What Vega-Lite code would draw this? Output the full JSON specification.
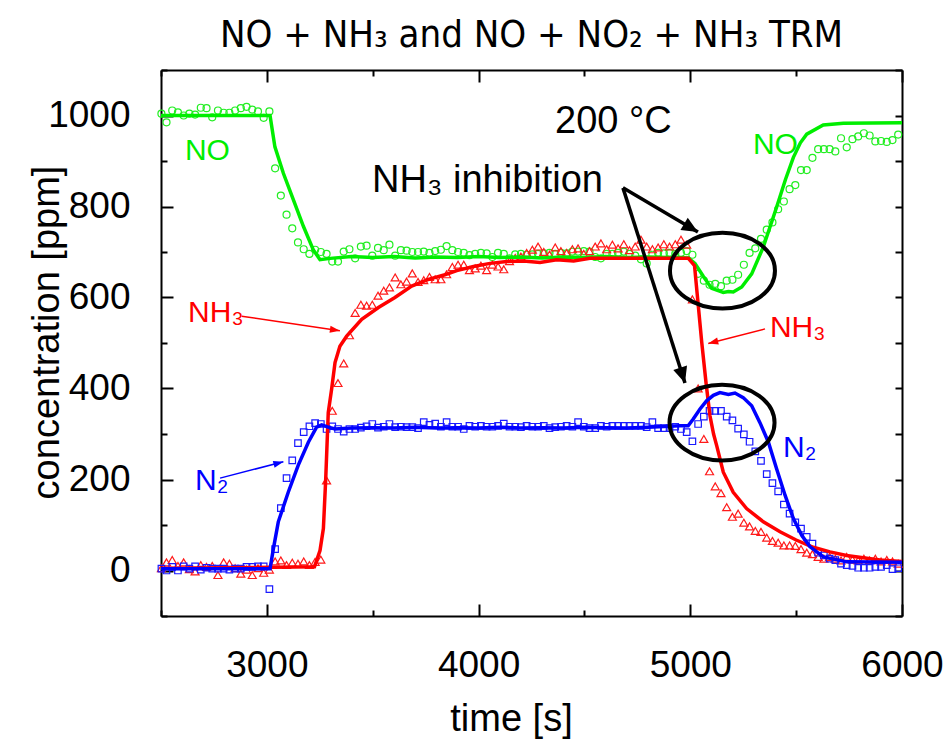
{
  "$schema": "https://vega.github.io/schema/vega-lite/v6.json",
  "width": 741,
  "height": 546,
  "autosize": {"type": "none"},
  "padding": {"left": 161, "top": 70, "right": 42, "bottom": 123},
  "background": "white",
  "config": {
    "view": {"stroke": null},
    "font": "Liberation Sans",
    "axis": {
      "domainColor": "black", "domainWidth": 2, "tickColor": "black", "tickWidth": 2,
      "labelColor": "black", "titleColor": "black", "grid": false,
      "labelFont": "Liberation Sans", "titleFont": "Liberation Sans",
      "labelFontSize": 37, "titleFontSize": 38, "titleFontWeight": "normal",
      "labelFlush": false, "labelOverlap": false
    }
  },
  "title": {
    "text": "NO + NH₃ and NO + NO₂ + NH₃ TRM",
    "font": "Liberation Sans Narrow, DejaVu Sans Condensed",
    "fontSize": 38, "fontWeight": "normal", "color": "black",
    "anchor": "middle", "frame": "group", "offset": 20, "dy": 24
  },
  "datasets": {
    "exp": [
      {"t":2502,"NO":1004,"NH3":5,"N2":4},{"t":2526,"NO":985,"NH3":18,"N2":0},{"t":2553,"NO":1011,"NH3":23,"N2":8},
      {"t":2580,"NO":1007,"NH3":10,"N2":0},{"t":2607,"NO":1000,"NH3":18,"N2":9},{"t":2634,"NO":1004,"NH3":3,"N2":4},
      {"t":2661,"NO":1002,"NH3":-2,"N2":9},{"t":2688,"NO":1017,"NH3":12,"N2":2},{"t":2715,"NO":1016,"NH3":8,"N2":6},
      {"t":2742,"NO":996,"NH3":10,"N2":4},{"t":2769,"NO":1011,"NH3":-10,"N2":4},{"t":2796,"NO":1006,"NH3":18,"N2":4},
      {"t":2823,"NO":1006,"NH3":15,"N2":2},{"t":2850,"NO":1011,"NH3":5,"N2":4},{"t":2877,"NO":1016,"NH3":-7,"N2":4},
      {"t":2904,"NO":1019,"NH3":2,"N2":8},{"t":2931,"NO":1013,"NH3":-10,"N2":8},{"t":2958,"NO":1009,"NH3":5,"N2":9},
      {"t":2985,"NO":995,"NH3":-5,"N2":9},{"t":3012,"NO":1009,"NH3":2,"N2":-41},{"t":3039,"NO":884,"NH3":20,"N2":47},
      {"t":3066,"NO":824,"NH3":22,"N2":137},{"t":3093,"NO":782,"NH3":12,"N2":203},{"t":3120,"NO":752,"NH3":17,"N2":242},
      {"t":3147,"NO":721,"NH3":15,"N2":280},{"t":3174,"NO":706,"NH3":20,"N2":304},{"t":3201,"NO":696,"NH3":12,"N2":317},
      {"t":3228,"NO":705,"NH3":19,"N2":324},{"t":3255,"NO":700,"NH3":24,"N2":322},{"t":3282,"NO":696,"NH3":198,"N2":311},
      {"t":3309,"NO":679,"NH3":351,"N2":317},{"t":3336,"NO":679,"NH3":412,"N2":311},{"t":3363,"NO":701,"NH3":455,"N2":305},
      {"t":3390,"NO":706,"NH3":517,"N2":311},{"t":3417,"NO":686,"NH3":566,"N2":311},{"t":3444,"NO":712,"NH3":584,"N2":314},
      {"t":3471,"NO":714,"NH3":582,"N2":317},{"t":3498,"NO":692,"NH3":584,"N2":322},{"t":3525,"NO":709,"NH3":604,"N2":314},
      {"t":3552,"NO":704,"NH3":615,"N2":316},{"t":3579,"NO":716,"NH3":622,"N2":322},{"t":3606,"NO":692,"NH3":644,"N2":315},
      {"t":3633,"NO":704,"NH3":629,"N2":316},{"t":3660,"NO":703,"NH3":635,"N2":315},{"t":3687,"NO":700,"NH3":653,"N2":315},
      {"t":3714,"NO":700,"NH3":634,"N2":313},{"t":3741,"NO":701,"NH3":638,"N2":326},{"t":3768,"NO":698,"NH3":645,"N2":320},
      {"t":3795,"NO":702,"NH3":640,"N2":323},{"t":3822,"NO":705,"NH3":640,"N2":316},{"t":3849,"NO":713,"NH3":651,"N2":326},
      {"t":3876,"NO":704,"NH3":667,"N2":316},{"t":3903,"NO":700,"NH3":672,"N2":316},{"t":3930,"NO":698,"NH3":672,"N2":311},
      {"t":3957,"NO":693,"NH3":660,"N2":318},{"t":3984,"NO":696,"NH3":664,"N2":316},{"t":4011,"NO":698,"NH3":670,"N2":318},
      {"t":4038,"NO":697,"NH3":660,"N2":316},{"t":4065,"NO":689,"NH3":672,"N2":316},{"t":4092,"NO":698,"NH3":668,"N2":318},
      {"t":4119,"NO":696,"NH3":662,"N2":323},{"t":4146,"NO":686,"NH3":680,"N2":316},{"t":4173,"NO":695,"NH3":687,"N2":316},
      {"t":4200,"NO":696,"NH3":690,"N2":315},{"t":4227,"NO":694,"NH3":698,"N2":318},{"t":4254,"NO":695,"NH3":705,"N2":316},
      {"t":4281,"NO":696,"NH3":712,"N2":316},{"t":4308,"NO":697,"NH3":700,"N2":318},{"t":4335,"NO":698,"NH3":694,"N2":313},
      {"t":4362,"NO":696,"NH3":710,"N2":315},{"t":4389,"NO":698,"NH3":702,"N2":316},{"t":4416,"NO":697,"NH3":698,"N2":318},
      {"t":4443,"NO":701,"NH3":706,"N2":316},{"t":4470,"NO":701,"NH3":708,"N2":326},{"t":4497,"NO":702,"NH3":696,"N2":316},
      {"t":4524,"NO":701,"NH3":702,"N2":313},{"t":4551,"NO":689,"NH3":712,"N2":313},{"t":4578,"NO":686,"NH3":719,"N2":318},
      {"t":4605,"NO":696,"NH3":706,"N2":316},{"t":4632,"NO":696,"NH3":716,"N2":318},{"t":4659,"NO":698,"NH3":708,"N2":318},
      {"t":4686,"NO":701,"NH3":717,"N2":318},{"t":4713,"NO":696,"NH3":704,"N2":318},{"t":4740,"NO":692,"NH3":712,"N2":318},
      {"t":4767,"NO":684,"NH3":727,"N2":318},{"t":4794,"NO":675,"NH3":712,"N2":315},{"t":4821,"NO":694,"NH3":706,"N2":326},
      {"t":4848,"NO":698,"NH3":710,"N2":313},{"t":4875,"NO":697,"NH3":717,"N2":313},{"t":4902,"NO":698,"NH3":712,"N2":313},
      {"t":4929,"NO":696,"NH3":717,"N2":316},{"t":4956,"NO":698,"NH3":727,"N2":311},{"t":4983,"NO":702,"NH3":716,"N2":304},
      {"t":5010,"NO":694,"NH3":596,"N2":284},{"t":5037,"NO":652,"NH3":400,"N2":322},{"t":5064,"NO":637,"NH3":289,"N2":338},
      {"t":5091,"NO":628,"NH3":218,"N2":351},{"t":5118,"NO":630,"NH3":185,"N2":351},{"t":5145,"NO":625,"NH3":170,"N2":351},
      {"t":5172,"NO":637,"NH3":139,"N2":338},{"t":5199,"NO":639,"NH3":118,"N2":330},{"t":5226,"NO":650,"NH3":125,"N2":312},
      {"t":5253,"NO":672,"NH3":105,"N2":299},{"t":5280,"NO":698,"NH3":97,"N2":283},{"t":5307,"NO":708,"NH3":87,"N2":262},
      {"t":5334,"NO":729,"NH3":85,"N2":241},{"t":5361,"NO":749,"NH3":72,"N2":212},{"t":5388,"NO":765,"NH3":65,"N2":192},
      {"t":5415,"NO":794,"NH3":61,"N2":174},{"t":5442,"NO":811,"NH3":55,"N2":145},{"t":5469,"NO":838,"NH3":55,"N2":125},
      {"t":5496,"NO":847,"NH3":54,"N2":106},{"t":5523,"NO":880,"NH3":47,"N2":92},{"t":5550,"NO":880,"NH3":39,"N2":74},
      {"t":5577,"NO":907,"NH3":36,"N2":59},{"t":5604,"NO":926,"NH3":30,"N2":39},{"t":5631,"NO":926,"NH3":26,"N2":33},
      {"t":5658,"NO":926,"NH3":30,"N2":26},{"t":5685,"NO":921,"NH3":26,"N2":23},{"t":5712,"NO":950,"NH3":22,"N2":15},
      {"t":5739,"NO":930,"NH3":30,"N2":12},{"t":5766,"NO":948,"NH3":24,"N2":10},{"t":5793,"NO":954,"NH3":22,"N2":6},
      {"t":5820,"NO":961,"NH3":26,"N2":6},{"t":5847,"NO":956,"NH3":22,"N2":6},{"t":5874,"NO":943,"NH3":26,"N2":8},
      {"t":5901,"NO":944,"NH3":20,"N2":8},{"t":5928,"NO":942,"NH3":23,"N2":12},{"t":5955,"NO":946,"NH3":20,"N2":3},
      {"t":5982,"NO":958,"NH3":15,"N2":5}
    ],
    "model": [
      {"s":"NO","t":2500,"c":1000},{"s":"NO","t":3015,"c":1000},{"s":"NO","t":3038,"c":931},{"s":"NO","t":3078,"c":873},
      {"s":"NO","t":3125,"c":815},{"s":"NO","t":3173,"c":756},{"s":"NO","t":3219,"c":705},{"s":"NO","t":3251,"c":683},
      {"s":"NO","t":3300,"c":686},{"s":"NO","t":3400,"c":690},{"s":"NO","t":3500,"c":688},{"s":"NO","t":3600,"c":690},
      {"s":"NO","t":3700,"c":687},{"s":"NO","t":3800,"c":689},{"s":"NO","t":3900,"c":688},{"s":"NO","t":4000,"c":690},
      {"s":"NO","t":4100,"c":688},{"s":"NO","t":4200,"c":689},{"s":"NO","t":4300,"c":687},{"s":"NO","t":4400,"c":689},
      {"s":"NO","t":4500,"c":688},{"s":"NO","t":4600,"c":690},{"s":"NO","t":4700,"c":688},{"s":"NO","t":4800,"c":689},
      {"s":"NO","t":4900,"c":688},{"s":"NO","t":4991,"c":687},{"s":"NO","t":5022,"c":675},{"s":"NO","t":5062,"c":646},
      {"s":"NO","t":5101,"c":620},{"s":"NO","t":5156,"c":611},{"s":"NO","t":5180,"c":613},{"s":"NO","t":5203,"c":612},
      {"s":"NO","t":5243,"c":623},{"s":"NO","t":5290,"c":652},{"s":"NO","t":5345,"c":711},{"s":"NO","t":5408,"c":799},
      {"s":"NO","t":5450,"c":860},{"s":"NO","t":5487,"c":908},{"s":"NO","t":5520,"c":940},{"s":"NO","t":5550,"c":959},
      {"s":"NO","t":5628,"c":979},{"s":"NO","t":5723,"c":983},{"s":"NO","t":6000,"c":984},
      {"s":"NH3","t":2500,"c":5},{"s":"NH3","t":3225,"c":8},{"s":"NH3","t":3251,"c":44},{"s":"NH3","t":3267,"c":92},
      {"s":"NH3","t":3278,"c":201},{"s":"NH3","t":3290,"c":347},{"s":"NH3","t":3306,"c":399},{"s":"NH3","t":3322,"c":457},
      {"s":"NH3","t":3345,"c":493},{"s":"NH3","t":3377,"c":515},{"s":"NH3","t":3448,"c":552},{"s":"NH3","t":3527,"c":578},
      {"s":"NH3","t":3605,"c":600},{"s":"NH3","t":3684,"c":625},{"s":"NH3","t":3763,"c":640},{"s":"NH3","t":3841,"c":650},
      {"s":"NH3","t":3897,"c":659},{"s":"NH3","t":3976,"c":668},{"s":"NH3","t":4054,"c":675},{"s":"NH3","t":4133,"c":679},
      {"s":"NH3","t":4212,"c":680},{"s":"NH3","t":4290,"c":677},{"s":"NH3","t":4369,"c":683},{"s":"NH3","t":4449,"c":680},
      {"s":"NH3","t":4526,"c":686},{"s":"NH3","t":4700,"c":686},{"s":"NH3","t":4850,"c":686},{"s":"NH3","t":4991,"c":686},
      {"s":"NH3","t":5020,"c":670},{"s":"NH3","t":5035,"c":596},{"s":"NH3","t":5054,"c":502},{"s":"NH3","t":5075,"c":410},
      {"s":"NH3","t":5093,"c":340},{"s":"NH3","t":5110,"c":300},{"s":"NH3","t":5125,"c":274},{"s":"NH3","t":5156,"c":216},
      {"s":"NH3","t":5203,"c":172},{"s":"NH3","t":5266,"c":136},{"s":"NH3","t":5345,"c":107},{"s":"NH3","t":5424,"c":85},
      {"s":"NH3","t":5500,"c":67},{"s":"NH3","t":5581,"c":51},{"s":"NH3","t":5660,"c":41},{"s":"NH3","t":5738,"c":33},
      {"s":"NH3","t":5896,"c":23},{"s":"NH3","t":6000,"c":20},
      {"s":"N2","t":2500,"c":4},{"s":"N2","t":3015,"c":4},{"s":"N2","t":3031,"c":48},{"s":"N2","t":3054,"c":107},
      {"s":"N2","t":3101,"c":172},{"s":"N2","t":3148,"c":231},{"s":"N2","t":3196,"c":282},{"s":"N2","t":3235,"c":315},
      {"s":"N2","t":3259,"c":320},{"s":"N2","t":3290,"c":315},{"s":"N2","t":3322,"c":311},{"s":"N2","t":3400,"c":313},
      {"s":"N2","t":3500,"c":314},{"s":"N2","t":3600,"c":313},{"s":"N2","t":3700,"c":315},{"s":"N2","t":3800,"c":313},
      {"s":"N2","t":3900,"c":314},{"s":"N2","t":4000,"c":313},{"s":"N2","t":4100,"c":315},{"s":"N2","t":4200,"c":313},
      {"s":"N2","t":4300,"c":314},{"s":"N2","t":4400,"c":313},{"s":"N2","t":4500,"c":315},{"s":"N2","t":4600,"c":314},
      {"s":"N2","t":4700,"c":313},{"s":"N2","t":4800,"c":315},{"s":"N2","t":4951,"c":318},{"s":"N2","t":4990,"c":318},
      {"s":"N2","t":5014,"c":333},{"s":"N2","t":5046,"c":355},{"s":"N2","t":5077,"c":373},{"s":"N2","t":5109,"c":385},
      {"s":"N2","t":5140,"c":391},{"s":"N2","t":5180,"c":387},{"s":"N2","t":5211,"c":390},{"s":"N2","t":5250,"c":380},
      {"s":"N2","t":5290,"c":362},{"s":"N2","t":5329,"c":325},{"s":"N2","t":5369,"c":282},{"s":"N2","t":5408,"c":223},
      {"s":"N2","t":5448,"c":165},{"s":"N2","t":5487,"c":114},{"s":"N2","t":5527,"c":77},{"s":"N2","t":5566,"c":52},
      {"s":"N2","t":5629,"c":30},{"s":"N2","t":5739,"c":19},{"s":"N2","t":6000,"c":18}
    ],
    "serieslabels": [
      {"s":"NO","label":"NO","t":2613,"c":902},
      {"s":"NO","label":"NO","t":5296,"c":915},
      {"s":"NH3","label":"NH₃","t":2628,"c":546},
      {"s":"NH3","label":"NH₃","t":5376,"c":513},
      {"s":"N2","label":"N₂","t":2661,"c":177},
      {"s":"N2","label":"N₂","t":5438,"c":249}
    ],
    "notes": [
      {"label":"200 °C","t":4361,"c":961},
      {"label":"NH₃ inhibition","t":3497,"c":832}
    ],
    "pointers": [
      {"s":"NH3","t1":2881,"c1":559,"t2":3345,"c2":527},
      {"s":"NH3","t1":5353,"c1":531,"t2":5085,"c2":499},
      {"s":"N2","t1":2779,"c1":203,"t2":3078,"c2":239}
    ],
    "inhibition": [
      {"t1":4682,"c1":841,"t2":5036,"c2":744},
      {"t1":4682,"c1":841,"t2":4975,"c2":412}
    ],
    "circles": [
      {"t":5152,"c":659},
      {"t":5150,"c":325}
    ]
  },
  "layer": [
    {
      "data": {"name": "exp"},
      "mark": {"type": "point", "shape": "circle", "filled": false, "color": "#22ee22", "opacity": 1, "size": 49, "strokeWidth": 1.2},
      "encoding": {
        "x": {"field": "t", "type": "quantitative", "scale": {"domain": [2500, 6000], "nice": false, "zero": false},
          "axis": {
            "orient": "bottom",
            "values": [2500, 3000, 3500, 4000, 4500, 5000, 5500, 6000],
            "labelExpr": "datum.value % 1000 === 0 ? format(datum.value, 'd') : ''",
            "tickSize": {"condition": {"test": "datum.value % 1000 === 0", "value": -12}, "value": -6},
            "labelPadding": 43,
            "title": "time [s]", "titleX": 350, "titleY": 114, "titleBaseline": "alphabetic"
          }},
        "y": {"field": "NO", "type": "quantitative", "scale": {"domain": [-100, 1100], "nice": false, "zero": false},
          "axis": {
            "orient": "left",
            "values": [-100, 0, 100, 200, 300, 400, 500, 600, 700, 800, 900, 1000, 1100],
            "labelExpr": "datum.value % 200 === 0 ? format(datum.value, 'd') : ''",
            "tickSize": {"condition": {"test": "datum.value % 200 === 0", "value": -12}, "value": -6},
            "labelPadding": 43,
            "title": "concentration [ppm]", "titleX": -103, "titleY": 262, "titleBaseline": "alphabetic", "titleAngle": -90
          }}
      }
    },
    {
      "data": {"name": "exp"},
      "mark": {"type": "point", "shape": "triangle-up", "filled": false, "color": "#ff1a1a", "opacity": 1, "size": 64, "strokeWidth": 1.2},
      "encoding": {
        "x": {"field": "t", "type": "quantitative", "axis": null},
        "y": {"field": "NH3", "type": "quantitative", "axis": null}
      }
    },
    {
      "data": {"name": "exp"},
      "mark": {"type": "point", "shape": "square", "filled": false, "color": "#1a1aff", "opacity": 1, "size": 42, "strokeWidth": 1.2},
      "encoding": {
        "x": {"field": "t", "type": "quantitative", "axis": null},
        "y": {"field": "N2", "type": "quantitative", "axis": null}
      }
    },
    {
      "data": {"name": "model"},
      "mark": {"type": "line", "strokeWidth": 3.5},
      "encoding": {
        "x": {"field": "t", "type": "quantitative", "axis": null},
        "y": {"field": "c", "type": "quantitative", "axis": null},
        "color": {"field": "s", "type": "nominal", "scale": {"domain": ["NO", "NH3", "N2"], "range": ["#00ee00", "#ff0000", "#0000ff"]}, "legend": null}
      }
    },
    {
      "data": {"name": "pointers"},
      "mark": {"type": "rule", "strokeWidth": 1.5},
      "encoding": {
        "x": {"field": "t1", "type": "quantitative", "axis": null},
        "y": {"field": "c1", "type": "quantitative", "axis": null},
        "x2": {"field": "t2"},
        "y2": {"field": "c2"},
        "color": {"field": "s", "type": "nominal", "legend": null}
      }
    },
    {
      "data": {"name": "inhibition"},
      "mark": {"type": "rule", "strokeWidth": 3.5, "color": "black"},
      "encoding": {
        "x": {"field": "t1", "type": "quantitative", "axis": null},
        "y": {"field": "c1", "type": "quantitative", "axis": null},
        "x2": {"field": "t2"},
        "y2": {"field": "c2"}
      }
    },
    {
      "data": {"values": [{}]},
      "mark": {"type": "point", "shape": "M 0 0 L -0.35 1 L 0.35 1 Z", "filled": true, "color": "#ff0000", "opacity": 1, "size": 400, "angle": 98.5, "strokeWidth": 0},
      "encoding": {"x": {"datum": 3345, "type": "quantitative", "axis": null}, "y": {"datum": 527, "type": "quantitative", "axis": null}}
    },
    {
      "data": {"values": [{}]},
      "mark": {"type": "point", "shape": "M 0 0 L -0.35 1 L 0.35 1 Z", "filled": true, "color": "#ff0000", "opacity": 1, "size": 400, "angle": 255.8, "strokeWidth": 0},
      "encoding": {"x": {"datum": 5085, "type": "quantitative", "axis": null}, "y": {"datum": 499, "type": "quantitative", "axis": null}}
    },
    {
      "data": {"values": [{}]},
      "mark": {"type": "point", "shape": "M 0 0 L -0.35 1 L 0.35 1 Z", "filled": true, "color": "#0000ff", "opacity": 1, "size": 400, "angle": 75.3, "strokeWidth": 0},
      "encoding": {"x": {"datum": 3078, "type": "quantitative", "axis": null}, "y": {"datum": 239, "type": "quantitative", "axis": null}}
    },
    {
      "data": {"values": [{}]},
      "mark": {"type": "point", "shape": "M 0 0 L -0.45 1 L 0.45 1 Z", "filled": true, "color": "black", "opacity": 1, "size": 1024, "angle": 120.4, "strokeWidth": 0},
      "encoding": {"x": {"datum": 5036, "type": "quantitative", "axis": null}, "y": {"datum": 744, "type": "quantitative", "axis": null}}
    },
    {
      "data": {"values": [{}]},
      "mark": {"type": "point", "shape": "M 0 0 L -0.45 1 L 0.45 1 Z", "filled": true, "color": "black", "opacity": 1, "size": 1024, "angle": 162.4, "strokeWidth": 0},
      "encoding": {"x": {"datum": 4975, "type": "quantitative", "axis": null}, "y": {"datum": 412, "type": "quantitative", "axis": null}}
    },
    {
      "data": {"name": "serieslabels"},
      "mark": {"type": "text", "align": "left", "baseline": "alphabetic", "fontSize": 30, "font": "Liberation Sans"},
      "encoding": {
        "x": {"field": "t", "type": "quantitative", "axis": null},
        "y": {"field": "c", "type": "quantitative", "axis": null},
        "text": {"field": "label"},
        "color": {"field": "s", "type": "nominal", "legend": null}
      }
    },
    {
      "data": {"name": "notes"},
      "mark": {"type": "text", "align": "left", "baseline": "alphabetic", "fontSize": 38, "font": "Liberation Sans", "color": "black"},
      "encoding": {
        "x": {"field": "t", "type": "quantitative", "axis": null},
        "y": {"field": "c", "type": "quantitative", "axis": null},
        "text": {"field": "label"}
      }
    },
    {
      "data": {"name": "circles"},
      "mark": {"type": "point", "shape": "M -1 0 A 1 0.72 0 1 1 1 0 A 1 0.72 0 1 1 -1 0 Z", "filled": false, "color": "black", "opacity": 1, "size": 11025, "strokeWidth": 4},
      "encoding": {
        "x": {"field": "t", "type": "quantitative",
          "axis": {
            "orient": "top",
            "values": [2500, 3000, 3500, 4000, 4500, 5000, 5500, 6000],
            "labels": false, "title": null,
            "tickSize": {"condition": {"test": "datum.value % 1000 === 0", "value": -12}, "value": -6}
          }},
        "y": {"field": "c", "type": "quantitative",
          "axis": {
            "orient": "right",
            "values": [-100, 0, 100, 200, 300, 400, 500, 600, 700, 800, 900, 1000, 1100],
            "labels": false, "title": null,
            "tickSize": -7
          }}
      }
    }
  ],
  "resolve": {"axis": {"x": "independent", "y": "independent"}}
}
